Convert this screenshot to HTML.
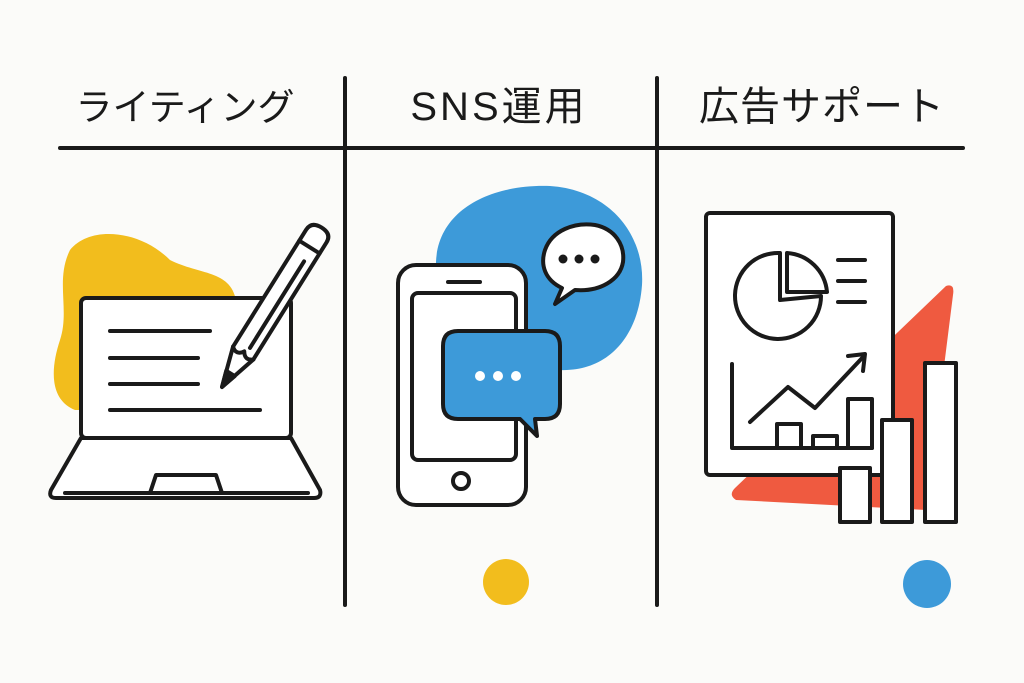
<!DOCTYPE html>
<html><head><meta charset="utf-8"><style>
html,body{margin:0;padding:0;background:#fbfbf9;}
svg{display:block}
text{font-family:"Liberation Sans","Noto Sans CJK JP",sans-serif;fill:#1a1a1a;}
</style></head><body>
<svg width="1024" height="683" viewBox="0 0 1024 683">
<rect width="1024" height="683" fill="#fbfbf9"/>
<g stroke="#1a1a1a" stroke-width="4" fill="none" stroke-linecap="round" stroke-linejoin="round">
<line x1="60" y1="148" x2="963" y2="148"/>
<line x1="345" y1="78" x2="345" y2="605"/>
<line x1="657" y1="78" x2="657" y2="605"/>
</g>
<text x="185" y="120" font-size="37" text-anchor="middle">ライティング</text>
<text x="499" y="120" font-size="40" text-anchor="middle" letter-spacing="3">SNS運用</text>
<text x="822" y="120" font-size="40" text-anchor="middle" letter-spacing="1">広告サポート</text>

<!-- writing -->
<path d="M70 250 C90 225 140 230 170 260 C200 275 230 270 236 300 L230 410 L75 410 C50 400 50 370 60 340 C70 310 55 280 70 250Z" fill="#f2bd1d"/>
<g stroke="#1a1a1a" stroke-width="4" stroke-linecap="round" stroke-linejoin="round">
<rect x="81" y="298" width="210" height="140" rx="5" fill="#fff"/>
<path d="M81 438 L291 438 L320 490 Q322 498 314 498 L56 498 Q48 498 51 490 Z" fill="#fff"/>
<line x1="65" y1="493" x2="308" y2="493"/>
<path d="M150 493 L156 475 L216 475 L222 493" fill="none"/>
<line x1="110" y1="331" x2="210" y2="331"/>
<line x1="110" y1="358" x2="198" y2="358"/>
<line x1="110" y1="384" x2="198" y2="384"/>
<line x1="110" y1="410" x2="260" y2="410"/>
<g transform="translate(222,387) rotate(32)">
<path d="M0 0 L-12 -40 L-12 -178 Q-12 -188 0 -188 Q12 -188 12 -178 L12 -40 Z" fill="#fff"/>
<line x1="-12" y1="-165" x2="12" y2="-165"/>
<line x1="3" y1="-150" x2="3" y2="-48"/>
<path d="M-12 -40 Q-5 -34 0 -42 Q5 -34 12 -40" fill="none"/>
<path d="M0 0 L-5 -16 L5 -16 Z" fill="#1a1a1a"/>
</g>
</g>

<!-- SNS -->
<path d="M436 262 C438 210 490 184 550 186 C610 190 645 235 642 285 C638 340 605 372 560 370 C520 368 480 335 458 310 C442 295 435 280 436 262Z" fill="#3d9ad9"/>
<g stroke="#1a1a1a" stroke-width="4" stroke-linecap="round" stroke-linejoin="round">
<rect x="398" y="265" width="128" height="240" rx="18" fill="#fff"/>
<rect x="412" y="293" width="104" height="167" rx="6" fill="#fff"/>
<line x1="448" y1="282" x2="480" y2="282"/>
<circle cx="461" cy="481" r="8" fill="none"/>
<path d="M555 304 L562 288 C545 280 540 265 545 250 C552 230 575 222 595 225 C615 229 625 245 623 262 C620 280 600 292 575 290 Z" fill="#fff"/>
<path d="M458 331 L545 331 Q560 331 560 346 L560 404 Q560 419 545 419 L535 419 L537 436 L520 419 L458 419 Q443 419 443 404 L443 346 Q443 331 458 331Z" fill="#3d9ad9"/>
</g>
<g fill="#1a1a1a"><circle cx="563" cy="259" r="4.5"/><circle cx="579" cy="259" r="4.5"/><circle cx="595" cy="259" r="4.5"/></g>
<g fill="#fff"><circle cx="480" cy="376" r="5"/><circle cx="498" cy="376" r="5"/><circle cx="516" cy="376" r="5"/></g>
<circle cx="506" cy="582" r="23" fill="#f2bd1d"/>

<!-- ads -->
<path d="M946 286 Q955 283 953 295 L926 510 L736 500 Q728 495 735 488 Z" fill="#ef5a40"/>
<g stroke="#1a1a1a" stroke-width="4" stroke-linecap="round" stroke-linejoin="round">
<rect x="706" y="213" width="187" height="262" rx="4" fill="#fff"/>
<path d="M780 253 A43 43 0 1 0 821 296 L780 300 Z" fill="none"/>
<path d="M787 253 A43 43 0 0 1 827 292 L787 292 Z" fill="none"/>
<line x1="838" y1="260" x2="865" y2="260"/>
<line x1="838" y1="281" x2="865" y2="281"/>
<line x1="838" y1="302" x2="865" y2="302"/>
<polyline points="732,364 732,448 872,448" fill="none"/>
<polyline points="750,422 788,387 815,408 864,356" fill="none"/>
<polyline points="848,356 865,354 863,371" fill="none"/>
<rect x="777" y="424" width="24" height="24" fill="#fff"/>
<rect x="813" y="436" width="24" height="12" fill="#fff"/>
<rect x="848" y="399" width="24" height="49" fill="#fff"/>
<rect x="840" y="468" width="30" height="54" fill="#fff"/>
<rect x="882" y="420" width="30" height="102" fill="#fff"/>
<rect x="925" y="363" width="31" height="159" fill="#fff"/>
</g>
<circle cx="927" cy="584" r="24" fill="#3d9ad9"/>
</svg>
</body></html>
